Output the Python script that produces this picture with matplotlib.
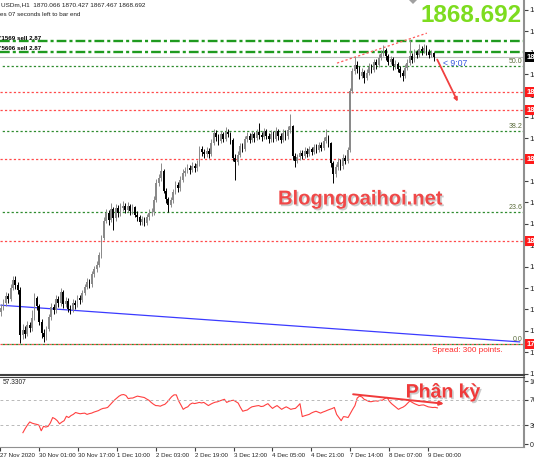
import numpy as np
import matplotlib
matplotlib.use('Agg')
import matplotlib.pyplot as plt
import matplotlib.patheffects as pe
from matplotlib.patches import Polygon
from matplotlib.transforms import blended_transform_factory

plt.rcParams['font.family'] = ['Liberation Sans', 'DejaVu Sans']
plt.rcParams['lines.scale_dashes'] = False

# H1 candles, open = previous close
first_open = 1785.2
closes = [
    1786.5, 1788.2, 1790.4, 1789.6, 1793.1, 1795.8, 1794.0, 1792.6, 1777.8, 1779.5,
    1778.2, 1781.0, 1779.9, 1783.4, 1789.8, 1787.2, 1782.0, 1778.5, 1777.2, 1779.6,
    1783.5, 1786.8, 1785.9, 1789.4, 1788.1, 1791.8, 1787.9, 1789.0, 1786.4, 1786.0,
    1788.3, 1787.5, 1789.7, 1789.2, 1791.5, 1793.4, 1795.1, 1794.3, 1797.6, 1799.2,
    1800.5, 1803.8, 1809.5, 1815.2, 1817.6, 1815.3, 1818.9, 1816.0, 1819.4, 1817.5,
    1819.2, 1820.1, 1818.6, 1819.8, 1818.2, 1819.5, 1817.1, 1816.3, 1814.8, 1815.6,
    1814.5, 1816.2, 1817.8, 1817.9, 1822.0, 1827.6, 1829.0, 1831.5, 1825.0, 1822.1,
    1820.4, 1821.8, 1824.5, 1826.9, 1825.8, 1828.6, 1830.9, 1831.5, 1832.4, 1831.8,
    1833.0, 1832.3, 1833.8, 1838.5, 1837.6, 1836.8, 1838.1, 1837.0, 1840.7, 1843.9,
    1842.5, 1841.1, 1843.4, 1842.0, 1844.2, 1843.6, 1841.5, 1835.8, 1834.2, 1836.7,
    1839.5, 1838.6, 1841.8, 1842.9, 1841.6, 1843.5, 1842.2, 1844.0, 1843.1, 1842.5,
    1844.4, 1843.0, 1841.9, 1843.6, 1842.0, 1844.5, 1842.8, 1841.6, 1843.9, 1842.7,
    1844.8, 1846.0, 1836.2, 1834.8, 1835.9, 1837.2, 1836.4, 1838.0, 1837.1, 1838.5,
    1837.6, 1839.2, 1838.3, 1839.8, 1839.0, 1841.2, 1842.6, 1840.4, 1834.0, 1830.5,
    1832.6, 1834.4, 1832.9, 1835.6, 1834.8, 1838.2, 1857.5, 1864.0, 1866.2, 1864.8,
    1862.6, 1863.8, 1861.9, 1863.5, 1865.4, 1864.6, 1866.9, 1866.1, 1868.5, 1869.7,
    1871.0, 1868.9, 1867.2, 1867.9, 1865.8, 1866.4, 1864.9, 1863.4, 1862.6, 1865.1,
    1866.8, 1868.9, 1867.7, 1870.2, 1869.4, 1871.3, 1870.6, 1871.8, 1870.3, 1869.5,
    1870.066, 1868.692,
]
highs = [
    1788.0, 1789.5, 1791.9, 1791.6, 1794.4, 1797.0, 1796.9, 1795.1, 1793.5, 1781.2,
    1780.6, 1782.3, 1782.1, 1786.0, 1791.5, 1790.6, 1788.0, 1782.9, 1779.7, 1780.8,
    1784.6, 1788.1, 1787.9, 1790.7, 1790.5, 1793.2, 1792.4, 1790.3, 1789.8, 1787.6,
    1789.4, 1789.2, 1790.9, 1791.0, 1792.6, 1794.5, 1796.3, 1796.0, 1798.8, 1800.4,
    1801.8, 1805.0, 1810.6, 1816.4, 1819.0, 1818.8, 1821.0, 1819.6, 1820.5, 1820.2,
    1820.8, 1821.6, 1821.0, 1821.1, 1820.6, 1820.7, 1820.0, 1818.2, 1817.0, 1816.8,
    1816.5, 1817.3, 1819.0, 1819.2, 1823.2, 1828.8, 1830.4, 1834.0, 1832.1, 1826.0,
    1823.0, 1823.0, 1825.6, 1828.0, 1827.9, 1829.9, 1832.0, 1832.7, 1833.6, 1833.4,
    1834.3, 1834.0, 1835.0, 1839.7, 1839.5, 1838.6, 1839.2, 1839.0, 1841.9, 1845.1,
    1844.8, 1843.4, 1844.6, 1844.3, 1845.8, 1845.2, 1844.3, 1842.2, 1837.0, 1838.0,
    1840.7, 1840.6, 1842.9, 1844.0, 1843.8, 1844.6, 1844.3, 1845.3, 1847.0, 1844.2,
    1845.5, 1845.2, 1843.9, 1844.8, 1844.5, 1845.7, 1845.3, 1843.7, 1845.0, 1844.8,
    1846.0, 1850.2, 1846.6, 1837.4, 1837.1, 1838.4, 1838.3, 1839.1, 1838.9, 1839.6,
    1839.4, 1840.3, 1840.1, 1840.9, 1840.8, 1842.4, 1845.0, 1843.3, 1841.0, 1834.8,
    1833.8, 1835.6, 1835.2, 1836.8, 1836.5, 1839.4, 1858.6, 1865.2, 1868.7, 1867.3,
    1865.6, 1865.0, 1864.5, 1864.7, 1866.6, 1866.5, 1868.0, 1867.9, 1869.7, 1870.9,
    1872.6, 1871.7, 1869.8, 1869.1, 1868.7, 1867.6, 1867.2, 1865.8, 1864.5, 1866.3,
    1868.0, 1874.3, 1870.0, 1871.4, 1871.0, 1873.1, 1872.4, 1872.9, 1872.5, 1871.2,
    1871.1, 1870.427,
]
lows = [
    1783.9, 1785.8, 1787.4, 1788.3, 1788.9, 1792.4, 1792.8, 1791.2, 1775.0, 1776.3,
    1776.9, 1777.4, 1778.6, 1779.1, 1782.8, 1786.0, 1780.9, 1776.8, 1775.5, 1776.0,
    1778.9, 1782.7, 1784.6, 1785.1, 1786.9, 1787.3, 1786.6, 1786.8, 1785.2, 1784.7,
    1785.3, 1786.2, 1786.8, 1788.0, 1788.5, 1790.8, 1792.7, 1793.1, 1793.6, 1796.8,
    1798.3, 1799.9, 1803.1, 1808.8, 1814.3, 1813.9, 1814.6, 1812.0, 1815.2, 1816.4,
    1816.8, 1818.4, 1817.5, 1817.9, 1817.0, 1817.4, 1816.2, 1815.0, 1813.6, 1813.9,
    1813.3, 1813.8, 1815.5, 1816.7, 1817.1, 1821.3, 1826.5, 1828.2, 1824.2, 1820.8,
    1818.0, 1819.5, 1821.0, 1823.8, 1824.6, 1825.0, 1827.8, 1829.9, 1830.6, 1830.5,
    1831.0, 1831.2, 1831.5, 1833.1, 1836.4, 1835.5, 1835.9, 1835.8, 1836.3, 1840.0,
    1841.3, 1840.0, 1840.4, 1840.9, 1841.3, 1842.4, 1840.2, 1834.6, 1828.5, 1833.4,
    1835.9, 1837.5, 1837.8, 1840.9, 1840.4, 1840.9, 1841.0, 1841.4, 1842.0, 1841.3,
    1841.8, 1841.9, 1840.7, 1841.0, 1840.8, 1841.3, 1841.6, 1840.4, 1840.9, 1841.5,
    1842.0, 1843.9, 1835.1, 1832.8, 1833.9, 1835.1, 1835.3, 1835.7, 1836.0, 1836.4,
    1836.5, 1836.9, 1837.2, 1837.6, 1837.9, 1838.3, 1840.5, 1839.2, 1832.8, 1827.5,
    1829.6, 1831.8, 1831.7, 1832.2, 1833.6, 1834.1, 1837.5, 1856.8, 1863.1, 1863.6,
    1861.4, 1861.9, 1860.2, 1861.1, 1862.8, 1863.4, 1863.9, 1864.9, 1865.4, 1867.8,
    1868.9, 1867.8, 1866.1, 1866.3, 1864.6, 1864.9, 1863.7, 1862.2, 1861.0, 1861.9,
    1864.3, 1866.0, 1866.6, 1867.0, 1868.3, 1868.7, 1869.5, 1869.9, 1869.2, 1868.4,
    1868.8, 1867.467,
]
rsi = [
    18.0, 24.5, 30.2, 35.0, 33.1, 32.0, 31.2, 30.0, 21.0, 28.0,
    26.9, 28.0, 33.5, 42.0, 40.1, 37.0, 32.0, 34.8, 37.0, 44.0,
    42.0, 45.1, 47.0, 50.0, 48.9, 48.0, 48.6, 49.0, 47.0, 48.2,
    49.0, 50.6, 51.8, 53.0, 55.1, 56.5, 57.0, 58.0, 62.0, 66.0,
    69.8, 73.0, 76.0, 78.0, 78.5, 77.0, 72.0, 72.8, 73.0, 74.6,
    76.0, 75.2, 74.5, 73.8, 71.5, 69.5, 66.0, 63.2, 61.0, 60.8,
    60.0, 61.7, 63.0, 66.5, 71.0, 75.2, 78.0, 78.0, 68.5, 62.0,
    55.0, 57.5, 59.0, 63.0, 65.0, 64.2, 65.0, 66.0, 65.2, 66.0,
    63.5, 61.0, 63.2, 65.0, 66.4, 67.0, 68.5, 69.8, 71.0, 66.0,
    67.8, 68.9, 69.5, 67.2, 65.0, 58.0, 52.0, 53.1, 54.0, 56.8,
    59.0, 59.8, 60.5, 61.0, 59.5, 60.0, 62.2, 64.0, 60.0, 56.5,
    59.0, 61.0, 58.0, 55.0, 57.2, 59.0, 57.1, 55.0, 56.0, 56.5,
    60.0, 64.0, 43.5, 44.8, 45.9, 47.0, 49.2, 50.8, 52.0, 50.5,
    49.0, 50.7, 52.0, 53.6, 55.0, 56.2, 58.0, 47.0, 42.0, 37.0,
    43.5, 43.0, 42.0, 48.5, 55.0, 61.0, 73.0, 76.0, 74.8, 71.0,
    69.5, 67.6, 67.1, 67.9, 68.5, 68.0, 69.5, 69.5, 72.0, 74.0,
    68.0, 64.0, 61.0, 58.1, 55.0, 57.0, 58.5, 61.0, 64.8, 68.5,
    66.0, 64.0, 62.5, 61.0, 61.8, 62.0, 60.5, 59.0, 58.4, 57.9,
    58.2, 57.3307,
]

bid = 1868.692
sell_prices = [1873.93, 1870.33]
sell_labels = ["'1569 sell 2.87", "'5606 sell 2.87"]
red_levels = [1857.24, 1851.35, 1835.32, 1808.50, 1774.81]
fib_names = ['0.0', '23.6', '38.2', '50.0']
fib_prices = [1774.81, 1818.00, 1844.50, 1865.75]
price_ticks = [1884.1, 1877.1, 1870.1, 1863.1, 1856.1, 1849.1, 1842.1, 1835.1, 1828.1,
               1821.1, 1814.1, 1807.1, 1800.1, 1793.1, 1786.1, 1779.1, 1772.1, 1765.1]
time_pos = [-10, 7, 24, 41, 58, 75, 92, 109, 126, 143, 160, 177]
time_labels = ['27 Nov 2020', '30 Nov 01:00', '30 Nov 17:00', '1 Dec 10:00', '2 Dec 03:00',
               '2 Dec 19:00', '3 Dec 12:00', '4 Dec 05:00', '4 Dec 21:00', '7 Dec 14:00',
               '8 Dec 07:00', '9 Dec 00:00']
blue_x, blue_y = [0, 217], [1787.5, 1775.5]
resist_x, resist_y = [140.6, 178.2], [1866.7, 1876.5]
arrow_from, arrow_to = (182.0, 1868.69), (191.6, 1853.3)
div_from, div_to = (143.0, 79.4), (185.0, 63.5)

W, H = 534, 462
fig = plt.figure(figsize=(W / 100, H / 100), dpi=100)
fig.patch.set_facecolor('white')

def fx(x):
    return x / W

def fy(y):
    return 1 - y / H

xlim = (-0.418, 218.83)
ax = fig.add_axes([0, fy(375), fx(524), 375 / H])
ax2 = fig.add_axes([0, fy(447), fx(524), 70 / H])

# --- main price window ---
closes = np.array(closes)
opens = np.r_[first_open, closes[:-1]]
idx = np.arange(len(closes))
up = closes >= opens
cols = np.where(up, '#8a8a8a', '#000000')

ax.vlines(idx, lows, highs, colors=cols, lw=0.7, zorder=3)
ax.bar(idx, np.maximum(np.abs(closes - opens), 0.3), bottom=np.minimum(opens, closes),
       width=0.72, color=cols, lw=0, zorder=4)

for p in red_levels:
    ax.axhline(p, color='#ff4a4a', lw=0.9, ls=(0, (1.6, 1.6)), zorder=2)
for p in fib_prices:
    ax.axhline(p, color='#2e8b2e', lw=0.9, ls=(1.6, (1.6, 1.6)), zorder=2)
for p in sell_prices:
    ax.axhline(p, color='#1f9a1f', lw=1.7, ls=(0, (7.0, 2.2, 2.2, 2.2)), zorder=2)
ax.axhline(bid, color='#c0c0c0', lw=0.8, zorder=1)

ax.plot(blue_x, blue_y, color='#3b3bff', lw=0.9, zorder=2)
ax.plot(resist_x, resist_y, color='#ff5a5a', lw=0.9, ls=(0, (1.6, 1.6)), zorder=2)
ax.annotate('', xy=arrow_to, xytext=arrow_from,
            arrowprops=dict(arrowstyle='-|>', color='#f04040', lw=1.3, mutation_scale=5))

ax.set_xlim(*xlim)
ax.set_ylim(1764.67, 1887.34)
ax.yaxis.tick_right()
ax.set_yticks(price_ticks)
ax.set_yticklabels([f'{v:.2f}' for v in price_ticks])
ax.tick_params(axis='y', labelsize=5.6, length=3, pad=1, color='#404040', labelcolor='#202020')
ax.set_xticks([])
for s in ['top', 'left']:
    ax.spines[s].set_visible(False)
ax.spines['right'].set_color('#909090')
ax.spines['right'].set_linewidth(1.5)
ax.spines['bottom'].set_color('#404040')
ax.spines['bottom'].set_linewidth(1.5)

tr = blended_transform_factory(ax.transAxes, ax.transData)
for p in red_levels:
    ax.text(1.004, p, f'{p:.2f}', transform=tr, color='white', fontsize=5.6, fontweight='bold',
            va='center', ha='left', clip_on=False, zorder=10,
            bbox=dict(boxstyle='square,pad=0.15', fc='#ff1a1a', ec='none'))
ax.text(1.004, bid, f'{bid:.2f}', transform=tr, color='white', fontsize=5.6, fontweight='bold',
        va='center', ha='left', clip_on=False, zorder=10,
        bbox=dict(boxstyle='square,pad=0.15', fc='#000000', ec='none'))
for name, p in zip(fib_names, fib_prices):
    ax.text(0.997, p + 0.4, name, transform=tr, color='#5a6b3a', fontsize=5,
            ha='right', va='bottom')

# --- RSI window ---
ax2.plot(idx, rsi, color='#ff4040', lw=0.8)
ax2.axhline(70, color='#b8b8b8', lw=0.7, ls=(0, (2, 2)))
ax2.axhline(30, color='#b8b8b8', lw=0.7, ls=(0, (2, 2)))
ax2.annotate('', xy=div_to, xytext=div_from,
             arrowprops=dict(arrowstyle='-|>', color='#f03a3a', lw=1.4, mutation_scale=6))
ax2.set_xlim(*xlim)
ax2.set_ylim(-4.76, 106.35)
ax2.yaxis.tick_right()
ax2.set_yticks([0, 30, 70, 100])
ax2.set_yticklabels(['0', '30', '70', '100'])
ax2.tick_params(axis='y', labelsize=5, length=3, pad=1, color='#404040', labelcolor='#202020')
ax2.set_xticks(time_pos)
ax2.set_xticklabels(time_labels, ha='left')
ax2.tick_params(axis='x', labelsize=4.4, length=3, pad=1.5, color='#404040', labelcolor='#202020')
ax2.spines['left'].set_visible(False)
ax2.spines['top'].set_color('#404040')
ax2.spines['right'].set_color('#909090')
ax2.spines['right'].set_linewidth(1.5)
ax2.spines['bottom'].set_color('#909090')

# --- texts in screen coordinates ---
fig.text(fx(1), fy(5), 'USDm,H1  1870.066 1870.427 1867.467 1868.692', fontsize=4.6,
         color='#202020', va='center')
fig.text(fx(0), fy(15), 'es 07 seconds left to bar end', fontsize=4.5,
         color='#202020', va='center')
for lab, yy in zip(sell_labels, [39, 49]):
    fig.text(fx(0), fy(yy), lab, fontsize=4.4, fontweight='bold', color='black', va='center')
fig.text(fx(522), fy(16), '1868.692', fontsize=17.5, fontweight='bold', color='#7ddc1f',
         ha='right', va='center')
fig.text(fx(443), fy(64), '< 9:07', fontsize=6.3, color='#3a5ae0', va='center')
shadow = [pe.withSimplePatchShadow(offset=(1.2, -1.2), shadow_rgbFace='#999999', alpha=0.5)]
fig.text(fx(360), fy(199), 'Blogngoaihoi.net', fontsize=14.5, fontweight='bold', color='#f04848',
         ha='center', va='center', path_effects=shadow)
fig.text(fx(432), fy(351), 'Spread: 300 points.', fontsize=5.9, color='#ff2a2a', va='center')
fig.text(fx(3), fy(383), '57.3307', fontsize=4.8, color='#202020', va='center')
fig.text(fx(443), fy(393), 'Phân kỳ', fontsize=14, fontweight='bold', color='#f03a3a',
         ha='center', va='center', path_effects=shadow)
fig.patches.append(Polygon([[fx(409), fy(0)], [fx(417), fy(0)], [fx(413), fy(4)]],
                           closed=True, transform=fig.transFigure, fc='#a0a0a0', ec='none'))

fig.savefig('out.png', dpi=100)
